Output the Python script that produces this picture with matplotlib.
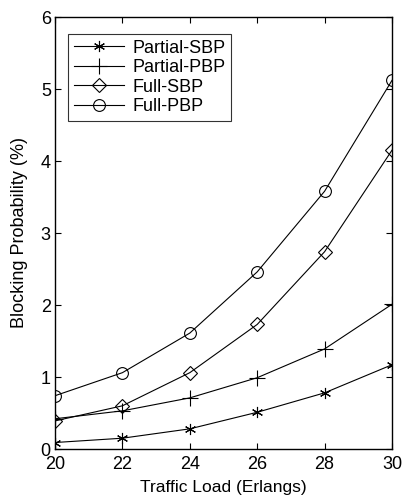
import matplotlib.pyplot as plt

plt.rcParams["font.family"] = ["Liberation Sans", "DejaVu Sans"]

traffic_load = [20, 22, 24, 26, 28, 30]
partial_sbp = [0.09, 0.15, 0.28, 0.51, 0.78, 1.17]
partial_pbp = [0.42, 0.53, 0.71, 0.99, 1.39, 2.01]
full_sbp = [0.39, 0.60, 1.06, 1.73, 2.74, 4.15]
full_pbp = [0.74, 1.06, 1.61, 2.46, 3.58, 5.12]

fig = plt.figure(figsize=(4.03, 4.99), dpi=100)
ax = fig.add_axes([55 / 403, 1 - 449 / 499, 337 / 403, 432 / 499])

style = dict(color="black", linewidth=0.8, markerfacecolor="none",
             markeredgecolor="black", markeredgewidth=0.8)
ax.plot(traffic_load, partial_sbp, marker=(6, 2, 0), markersize=8,
        label="Partial-SBP", **style)
ax.plot(traffic_load, partial_pbp, marker="+", markersize=11,
        label="Partial-PBP", **style)
ax.plot(traffic_load, full_sbp, marker="D", markersize=7.5,
        label="Full-SBP", **style)
ax.plot(traffic_load, full_pbp, marker="o", markersize=8.5,
        label="Full-PBP", **style)

ax.set_xlim(20, 30)
ax.set_ylim(0, 6)
ax.set_xticks(traffic_load)
ax.set_yticks(range(7))
ax.tick_params(direction="in", top=True, right=True, labelsize=13,
               length=4, width=0.8)
ax.tick_params(axis="x", pad=5)
ax.tick_params(axis="y", pad=3)
for spine in ax.spines.values():
    spine.set_linewidth(1.0)

ax.set_xlabel("Traffic Load (Erlangs)", fontsize=12.5, labelpad=5)
ax.set_ylabel("Blocking Probability (%)", fontsize=13, labelpad=9)

leg = ax.legend(loc="upper left", bbox_to_anchor=(0.04, 0.96), fontsize=13,
                frameon=True, fancybox=False, edgecolor="black",
                handlelength=2.8, handletextpad=0.45, borderpad=0.3,
                labelspacing=0.14, borderaxespad=0)
leg.get_frame().set_linewidth(0.8)

fig.savefig("out.png", dpi=100)
